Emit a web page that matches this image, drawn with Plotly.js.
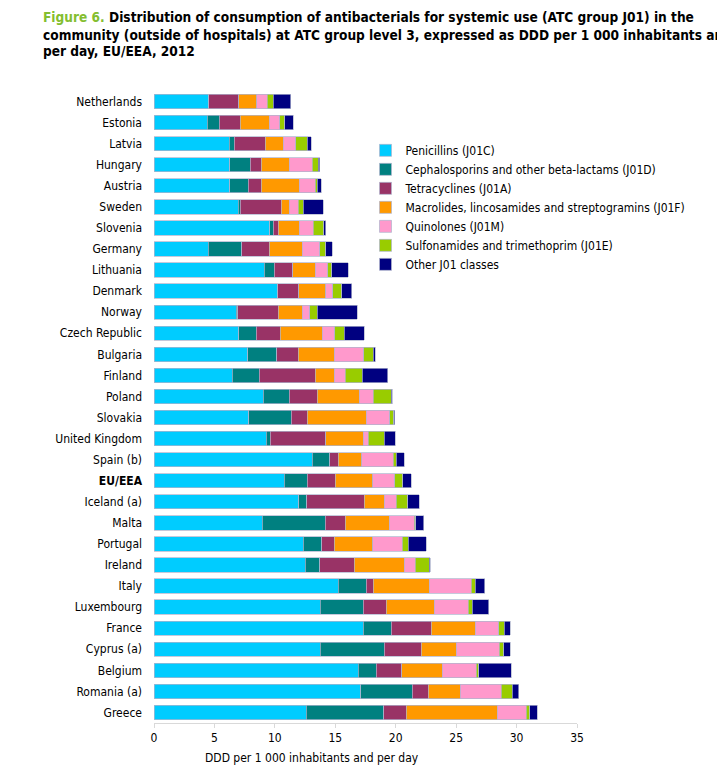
<!DOCTYPE html>
<html>
<head>
<meta charset="utf-8">
<script src="https://cdn.plot.ly/plotly-3.0.1.min.js"></script>
<style>html,body{margin:0;padding:0;background:#fff}#chart{width:717px;height:767px}</style>
</head>
<body>
<div id="chart"></div>
<script>
const countries = ["Netherlands","Estonia","Latvia","Hungary","Austria","Sweden","Slovenia","Germany","Lithuania","Denmark","Norway","Czech Republic","Bulgaria","Finland","Poland","Slovakia","United Kingdom","Spain (b)","EU/EEA","Iceland (a)","Malta","Portugal","Ireland","Italy","Luxembourg","France","Cyprus (a)","Belgium","Romania (a)","Greece"];
const countryLabels = countries.map(c => c === "EU/EEA" ? "<b>EU/EEA</b>" : c);

const penicillins   = [4.50,4.42,6.21,6.26,6.26,6.98,9.58,4.47,9.11,10.21,6.79,7.01,7.75,6.46,9.02,7.86,9.27,13.08,10.76,11.97,8.94,12.33,12.50,15.26,13.74,17.30,13.77,16.91,17.11,12.58];
const cephalosporins= [0.05,0.96,0.41,1.71,1.52,0.17,0.27,2.79,0.85,0.02,0.14,1.43,2.40,2.26,2.18,3.48,0.36,1.46,1.93,0.67,5.24,1.55,1.22,2.32,3.59,2.35,5.30,1.49,4.27,6.43];
const tetracyclines = [2.45,1.77,2.57,0.89,1.08,3.39,0.41,2.29,1.52,1.76,3.36,2.02,1.77,4.64,2.32,1.33,4.58,0.69,2.29,4.74,1.66,1.05,2.86,0.55,1.87,3.31,3.03,2.10,1.33,1.85];
const macrolides    = [1.50,2.37,1.49,2.34,3.14,0.64,1.77,2.70,1.85,2.24,1.96,3.45,3.01,1.57,3.45,4.91,3.12,1.96,3.12,1.66,3.64,3.17,4.14,4.64,3.98,3.61,2.90,3.34,2.62,7.56];
const quinolones    = [0.85,0.88,1.05,1.90,1.33,0.77,1.13,1.47,1.05,0.55,0.64,1.05,2.43,0.88,1.19,1.93,0.38,2.59,1.80,1.02,2.04,2.46,0.88,3.47,2.81,1.96,3.56,2.82,3.40,2.37];
const sulfonamides  = [0.50,0.40,0.94,0.50,0.19,0.41,0.88,0.49,0.33,0.77,0.63,0.77,0.80,1.41,1.49,0.33,1.33,0.25,0.68,0.94,0.14,0.49,1.16,0.36,0.33,0.44,0.36,0.22,0.91,0.28];
const otherJ01      = [1.45,0.73,0.33,0.10,0.30,1.63,0.16,0.55,1.38,0.80,3.28,1.65,0.16,2.10,0.05,0.08,0.91,0.69,0.72,0.96,0.64,1.47,0.09,0.75,1.36,0.50,0.55,2.67,0.52,0.64];

const seriesNames = ["Penicillins (J01C)","Cephalosporins and other beta-lactams (J01D)","Tetracyclines (J01A)","Macrolides, lincosamides and streptogramins (J01F)","Quinolones (J01M)","Sulfonamides and trimethoprim (J01E)","Other J01 classes"];
const seriesValues = [penicillins,cephalosporins,tetracyclines,macrolides,quinolones,sulfonamides,otherJ01];
const seriesColors = ["#00CCFF","#008080","#993366","#FF9900","#FF99CC","#99CC00","#000080"];
const xTicks = [0,5,10,15,20,25,30,35];
const titleLines = [
  "<span style='color:#84BE30'>Figure 6.</span> Distribution of consumption of antibacterials for systemic use (ATC group J01) in the",
  "community (outside of hospitals) at ATC group level 3, expressed as DDD per 1 000 inhabitants and",
  "per day, EU/EEA, 2012"
];
const xTitle = "DDD per 1 000 inhabitants and per day";

const FONT = "'DejaVu Sans Condensed', 'DejaVu Sans', sans-serif";

const traces = seriesValues.map((vals,i) => ({
  type: "bar",
  orientation: "h",
  name: seriesNames[i],
  y: countries,
  x: vals,
  marker: {color: seriesColors[i], line: {color: "rgba(175,180,205,0.9)", width: 0.8}},
  hoverinfo: "x+y+name"
}));

const PLOT_L = 154, PLOT_W = 423, PLOT_T = 91;
const titleY = [17, 35, 51];
const annotations = titleLines.map((t,i) => ({
  text: "<b>" + t + "</b>",
  xref: "paper", yref: "paper",
  x: (41 - PLOT_L) / PLOT_W, y: 1, yshift: PLOT_T - titleY[i],
  xanchor: "left", yanchor: "middle", showarrow: false,
  font: {family: FONT, size: 13.6, color: "#000"}
}));
annotations.push({
  text: xTitle,
  xref: "paper", yref: "paper", x: (312 - PLOT_L) / PLOT_W, y: 0,
  yshift: -35, xanchor: "center", yanchor: "middle", showarrow: false,
  font: {family: FONT, size: 12, color: "#000"}
});

const layout = {
  width: 717, height: 767,
  paper_bgcolor: "#ffffff", plot_bgcolor: "#ffffff",
  margin: {l: PLOT_L, r: 717 - PLOT_L - PLOT_W, t: PLOT_T, b: 44},
  barmode: "stack",
  bargap: 0.32,
  font: {family: FONT, size: 12, color: "#000"},
  xaxis: {
    range: [0, 35], tickvals: xTicks, ticktext: xTicks.map(String),
    showgrid: false, zeroline: false,
    showline: true, linecolor: "#d9d9d9", linewidth: 1,
    ticks: "outside", ticklen: 4, tickcolor: "#d9d9d9",
    tickfont: {family: FONT, size: 12, color: "#000"},
    fixedrange: true
  },
  yaxis: {
    type: "category", categoryorder: "array", categoryarray: countries,
    tickvals: countries, ticktext: countryLabels,
    autorange: "reversed",
    showgrid: false, zeroline: false, showline: false, ticks: "",
    ticklabelstandoff: 11,
    tickfont: {family: FONT, size: 12, color: "#000"}
  },
  showlegend: true,
  legend: {
    x: 0.5, xanchor: "left", y: 0.929, yanchor: "top",
    traceorder: "normal",
    bgcolor: "rgba(0,0,0,0)",
    font: {family: FONT, size: 12, color: "#000"},
    itemwidth: 30, tracegroupgap: 0
  },
  annotations: annotations
};

Plotly.newPlot("chart", traces, layout, {displayModeBar: false, staticPlot: true});
</script>
</body>
</html>
